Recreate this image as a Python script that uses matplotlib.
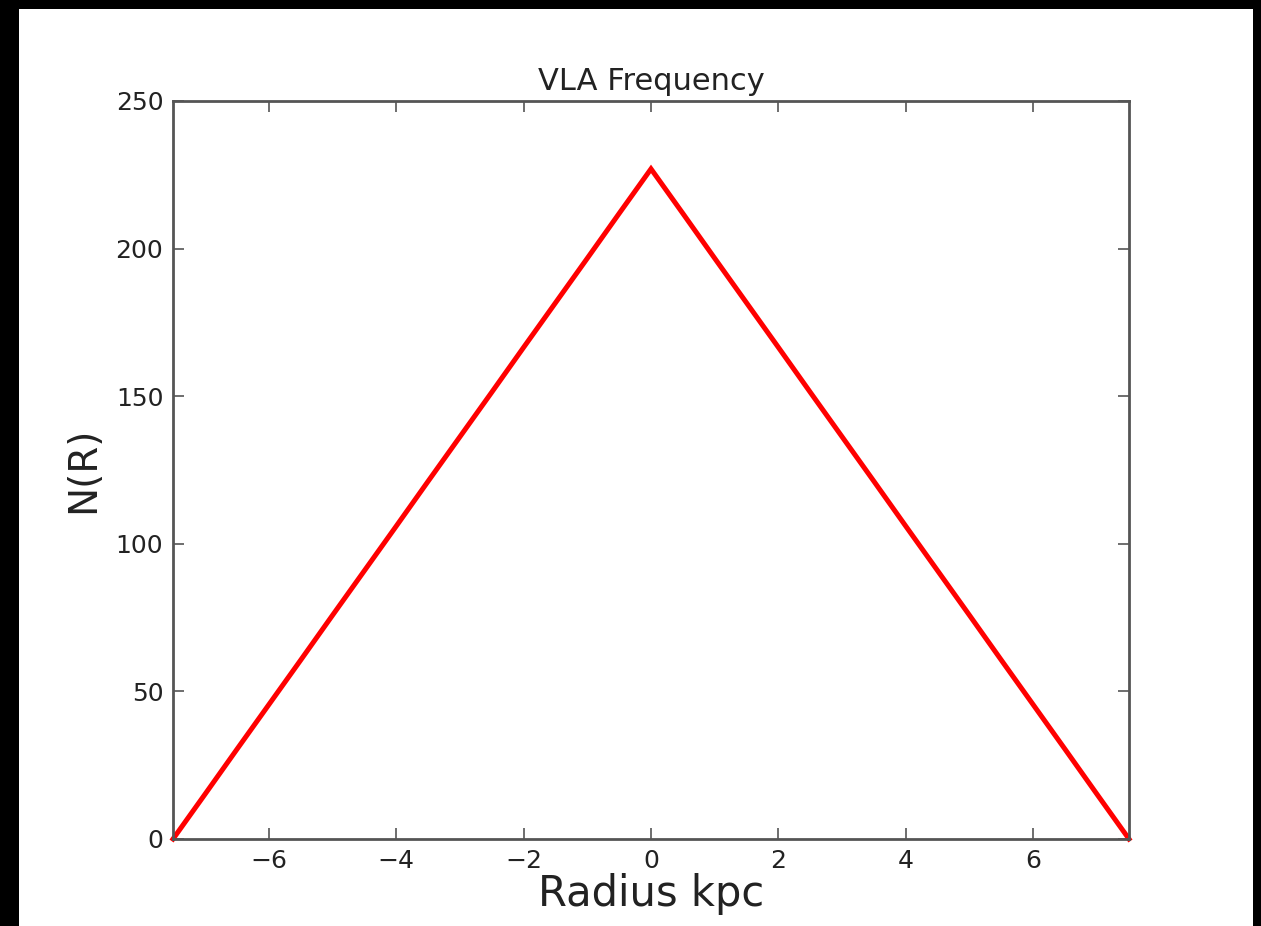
import matplotlib
matplotlib.use("Agg")
import matplotlib.pyplot as plt
from matplotlib.patches import Rectangle

# N(R) counts, every 0.5 kpc
radius = [-7.5, -7.0, -6.5, -6.0, -5.5, -5.0, -4.5, -4.0, -3.5, -3.0, -2.5, -2.0, -1.5, -1.0, -0.5, 0.0,
          0.5, 1.0, 1.5, 2.0, 2.5, 3.0, 3.5, 4.0, 4.5, 5.0, 5.5, 6.0, 6.5, 7.0, 7.5]
counts = [0, 15.1, 30.3, 45.4, 60.5, 75.7, 90.8, 105.9, 121.1, 136.2, 151.3, 166.5, 181.6, 196.7, 211.9, 227,
          211.9, 196.7, 181.6, 166.5, 151.3, 136.2, 121.1, 105.9, 90.8, 75.7, 60.5, 45.4, 30.3, 15.1, 0]

xticks = [-6, -4, -2, 0, 2, 4, 6]
yticks = [0, 50, 100, 150, 200, 250]

txt = '#222222'
spine = '#555555'

fig = plt.figure(figsize=(12.61, 9.26), dpi=100, facecolor='black')
# white page inside the black frame, kept behind the axes
fig.patches.append(Rectangle((19/1261, 0), (1253-19)/1261, (926-9)/926,
                             transform=fig.transFigure, facecolor='white',
                             edgecolor='none', zorder=-10))

ax = fig.add_axes([173/1261, 1-839/926, (1129-173)/1261, (839-101)/926])
ax.set_zorder(1)
ax.plot(radius, counts, color='red', lw=3.6, solid_joinstyle='miter', clip_on=False)

ax.set_xlim(-7.5, 7.5)
ax.set_ylim(0, 250)
ax.set_xticks(xticks)
ax.set_yticks(yticks)
ax.tick_params(direction='in', length=8, width=1.2, color=spine, top=True, right=True,
               labelsize=18, labelcolor=txt, pad=7)
for s in ax.spines.values():
    s.set_color(spine)
    s.set_linewidth(2)

ax.set_title('VLA Frequency', fontsize=22, color=txt, pad=8)
ax.set_xlabel('Radius kpc', fontsize=30, color=txt, labelpad=0)
ax.set_ylabel('N(R)', fontsize=28, color=txt, labelpad=10)

fig.savefig('out.png', dpi=100, facecolor='black')
